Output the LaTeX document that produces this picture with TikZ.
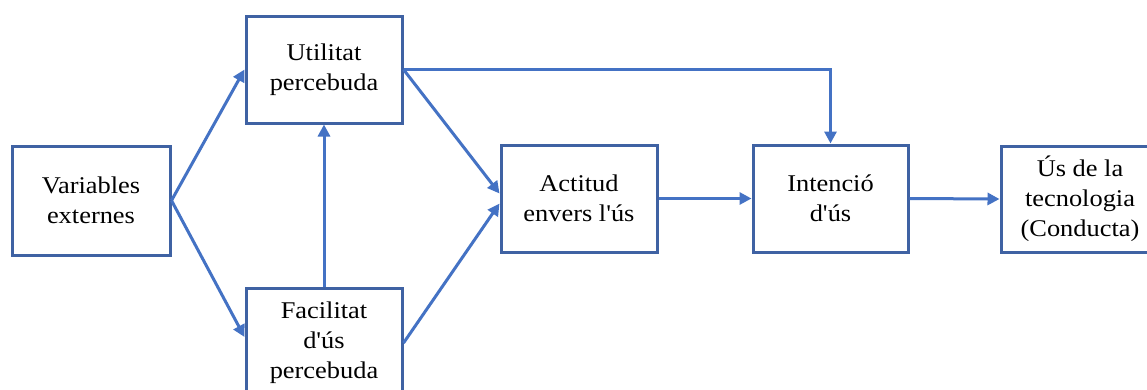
\documentclass[tikz,border=0pt]{standalone}
\usepackage{fontspec}
\setmainfont{Liberation Serif}[FakeStretch=1.1, Ligatures=TeXOff]
\usetikzlibrary{arrows.meta}
\definecolor{boxblue}{RGB}{63,98,163}
\definecolor{arrowblue}{RGB}{68,114,196}
\tikzset{
  block/.style={draw=boxblue, line width=3pt, fill=white, align=center,
    inner sep=0pt, font=\fontsize{24}{30}\selectfont, text=black},
  link/.style={draw=arrowblue, line width=3pt,
    -{Triangle[length=12pt,width=12pt]}},
}
\begin{document}
\begin{tikzpicture}[x=1pt,y=-1pt]
  \clip (0,0) rectangle (1147,389);
  \fill[white] (0,0) rectangle (1147,389);

  \node[block, minimum width=158pt, minimum height=109pt] (var) at (91,200.5) {Variables\\externes};
  \node[block, minimum width=156pt, minimum height=107pt] (util) at (324,69.5) {Utilitat\\percebuda};
  \node[block, minimum width=156pt, minimum height=110pt] (fac) at (324,343) {Facilitat\\d'ús\\percebuda};
  \node[block, minimum width=156pt, minimum height=107pt] (act) at (579,198.5) {Actitud\\envers l'ús};
  \node[block, minimum width=155pt, minimum height=107pt] (int) at (830.5,198.5) {Intenció\\d'ús};
  \node[block, minimum width=158pt, minimum height=106pt] (us) at (1080,199) {Ús de la\\tecnologia\\(Conducta)};

  \draw[link] (var.east) -- (util.west);
  \draw[link] (var.east) -- ([yshift=6pt]fac.west);
  \draw[link] (fac.north) -- (util.south);
  \draw[link] (util.east) -- ([yshift=5pt]act.west);
  \draw[link] (fac.east) -- ([yshift=-5pt]act.west);
  \draw[link] (util.east) -| (int.north);
  \draw[link] (act.east) -- (int.west);
  \draw[link] (int.east) -- (us.west);
\end{tikzpicture}
\end{document}
